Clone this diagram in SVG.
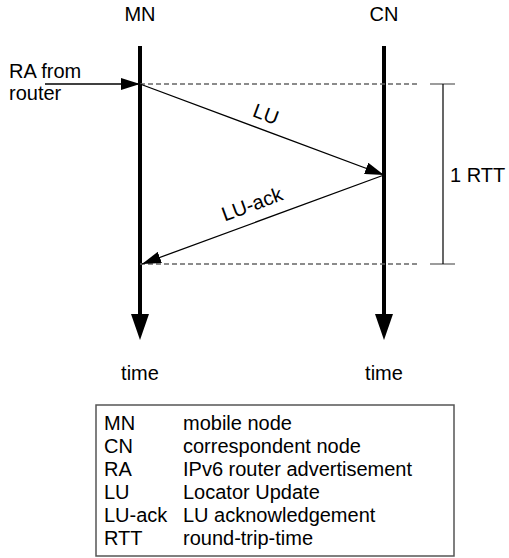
<svg xmlns="http://www.w3.org/2000/svg" width="509" height="558" viewBox="0 0 509 558">
<style>
text{font-family:"Liberation Sans",Arial,sans-serif;font-size:20px;fill:#000}
.life{stroke:#000;stroke-width:4;fill:none}
.msg{stroke:#000;stroke-width:1.3;fill:none}
.dash{stroke:#666;stroke-width:1.3;stroke-dasharray:5,3;fill:none}
.tick{stroke:#666;stroke-width:1.3}
.leg{font-size:20px}
</style>
<defs>
<marker id="ah" markerUnits="userSpaceOnUse" viewBox="0 0 19 12" markerWidth="19" markerHeight="12" refX="19" refY="6" orient="auto">
<path d="M0,0 L19,6 L0,12 z" fill="#000"/>
</marker>
<marker id="big" markerUnits="userSpaceOnUse" viewBox="0 0 26 18" markerWidth="26" markerHeight="18" refX="1" refY="9" orient="auto">
<path d="M0,0 L26,9 L0,18 z" fill="#000"/>
</marker>
</defs>
<g id="MN">
<text x="140" y="21" text-anchor="middle">MN</text>
<line class="life" x1="140" y1="46" x2="140" y2="315" marker-end="url(#big)"/>
<text x="140" y="380" text-anchor="middle">time</text>
</g>
<g id="CN">
<text x="384" y="21" text-anchor="middle">CN</text>
<line class="life" x1="384" y1="46" x2="384" y2="315" marker-end="url(#big)"/>
<text x="384" y="380" text-anchor="middle">time</text>
</g>
<g id="RA">
<text x="9" y="78">RA from</text>
<text x="9" y="100">router</text>
</g>
<g id="RTT">
<line class="tick" x1="430" y1="84" x2="455" y2="84"/>
<line class="tick" x1="430" y1="264" x2="455" y2="264"/>
<line x1="443" y1="84" x2="443" y2="264" stroke="#000" stroke-width="1.2"/>
<text x="450" y="182">1 RTT</text>
</g>
<g id="connectors">
<line class="msg" x1="45" y1="84" x2="140" y2="84" marker-end="url(#ah)"/>
<line class="dash" x1="140" y1="84" x2="418" y2="84"/>
<line class="dash" x1="140" y1="264" x2="418" y2="264"/>
<line class="msg" x1="140" y1="84" x2="384" y2="175" marker-end="url(#ah)"/>
<line class="msg" x1="384" y1="175" x2="142" y2="264" marker-end="url(#ah)"/>
<text transform="translate(266,114) rotate(20.45)" x="0" y="7" text-anchor="middle">LU</text>
<text transform="translate(252,204) rotate(-20.2)" x="0" y="7" text-anchor="middle">LU-ack</text>
</g>
<g id="legend">
<rect x="96" y="405" width="358" height="151" fill="none" stroke="#555" stroke-width="1.5"/>
<text class="leg" x="104" y="430">MN</text><text class="leg" x="183" y="430">mobile node</text>
<text class="leg" x="104" y="453">CN</text><text class="leg" x="183" y="453">correspondent node</text>
<text class="leg" x="104" y="476">RA</text><text class="leg" x="183" y="476">IPv6 router advertisement</text>
<text class="leg" x="104" y="499">LU</text><text class="leg" x="183" y="499">Locator Update</text>
<text class="leg" x="104" y="522">LU-ack</text><text class="leg" x="183" y="522">LU acknowledgement</text>
<text class="leg" x="104" y="545">RTT</text><text class="leg" x="183" y="545">round-trip-time</text>
</g>
</svg>
